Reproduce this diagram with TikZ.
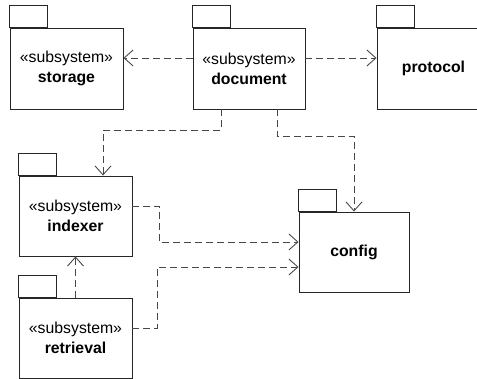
\documentclass[tikz,border=0pt]{standalone}
\usepackage{fontspec}
\setmainfont{Liberation Sans}
\usetikzlibrary{arrows.meta}
\begin{document}
\begin{tikzpicture}[x=1pt,y=-1pt,
  pkg/.style={draw=black!85, line width=0.9pt, fill=white, inner sep=0pt, align=center,
    minimum width=113pt, minimum height=81pt, font=\fontsize{15.8}{20}\selectfont},
  tabbox/.style={draw=black!85, line width=0.9pt},
  dep/.style={draw=black!72, line width=0.9pt, dash pattern=on 7pt off 4pt,
    -{Straight Barb[length=9pt,width=16pt,line width=0.9pt]}}]
\useasboundingbox (0,0) rectangle (477,379);
\clip (0,0) rectangle (477,379);
% packages
\node[pkg] (storage) at (66.5,68.5) {«subsystem»\\\textbf{storage}};
\node[pkg, minimum width=112pt] (document) at (249,68.5) {«subsystem»\\\textbf{document}};
\node[pkg] (protocol) at (433.5,68.5) {\textbf{protocol}};
\node[pkg, minimum height=80pt] (indexer) at (75.5,216) {«subsystem»\\\textbf{indexer}};
\node[pkg, minimum width=110pt, minimum height=80pt] (config) at (354,252) {\textbf{config}};
\node[pkg, minimum height=80pt] (retrieval) at (75.5,338) {«subsystem»\\\textbf{retrieval}};
% tabs
\foreach \n in {storage,document,protocol,indexer,config,retrieval}
  \draw[tabbox] (\n.north west) rectangle ++(38,-22);
% dependencies
\draw[dep] ([yshift=10.5pt]document.west) -- ([yshift=10.5pt]storage.east);
\draw[dep] ([yshift=10.5pt]document.east) -- ([yshift=10.5pt]protocol.west);
\draw[dep] ([xshift=-28pt]document.south) -- ++(0,21) -| ([xshift=27.5pt]indexer.north);
\draw[dep] ([xshift=28pt]document.south) -- ++(0,27) -| (config.north);
\draw[dep] ([yshift=10pt]indexer.east) -- ++(27,0) |- ([yshift=10pt]config.west);
\draw[dep] ([yshift=10pt]retrieval.east) -- ++(25,0) |- ([yshift=-15pt]config.west);
\draw[dep] (retrieval.north) -- (indexer.south);
\end{tikzpicture}
\end{document}
